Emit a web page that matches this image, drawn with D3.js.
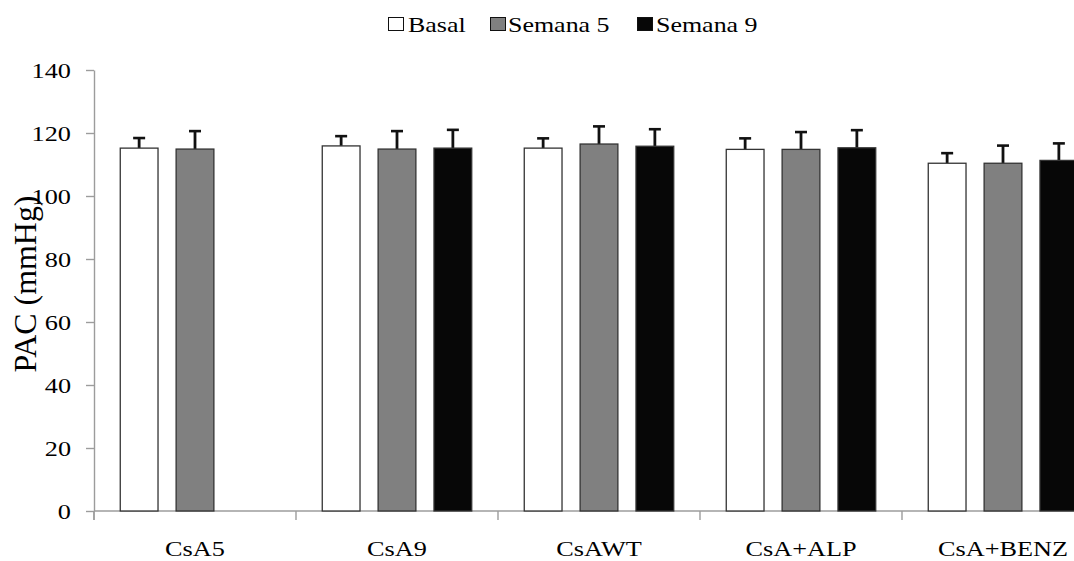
<!DOCTYPE html>
<html>
<head>
<meta charset="utf-8">
<script src="https://cdn.jsdelivr.net/npm/d3@7"></script>
<style>
body{margin:0;background:#fff;}
svg{display:block;}
</style>
</head>
<body>
<svg id="chart" width="1074" height="561"></svg>
<script>
const categories = ["CsA5", "CsA9", "CsAWT", "CsA+ALP", "CsA+BENZ"];
const seriesNames = ["Basal", "Semana 5", "Semana 9"];
const basal     = [115.2, 115.9, 115.2, 114.8, 110.4];
const semana5   = [114.9, 114.9, 116.5, 114.8, 110.4];
const semana9   = [null, 115.2, 115.8, 115.3, 111.3];
const basalErr  = [3.2, 3.1, 3.1, 3.5, 3.2];
const semana5Err= [5.7, 5.7, 5.6, 5.5, 5.6];
const semana9Err= [null, 5.8, 5.4, 5.6, 5.4];
const yTicks = [0, 20, 40, 60, 80, 100, 120, 140];
const colors = ["#ffffff", "#808080", "#070707"];

const values = [basal, semana5, semana9];
const errs = [basalErr, semana5Err, semana9Err];

const FONT = "'Liberation Serif', 'Times New Roman', serif";
const SX = 1.25; // horizontal stretch of the type

const svg = d3.select("#chart");
const mLeft = 94, mTop = 70, mBottom = 511, groupW = 202;

const x = d3.scaleBand().domain(categories).range([mLeft, mLeft + groupW * categories.length]).padding(0);
const xi = d3.scaleBand().domain(seriesNames).range([0, x.bandwidth()]).paddingInner(0.324).paddingOuter(0.47);
const y = d3.scaleLinear().domain([0, 140]).range([mBottom, mTop]);

const axisColor = "#9c9c9c";

// Y axis
const yAxis = svg.append("g").attr("transform", `translate(${mLeft},0)`)
  .call(d3.axisLeft(y).tickValues(yTicks).tickSize(8).tickSizeOuter(0));
yAxis.select(".domain").attr("stroke", axisColor).attr("stroke-width", 1.4);
yAxis.selectAll(".tick line").attr("stroke", axisColor).attr("stroke-width", 1.4);
yAxis.selectAll(".tick text")
  .attr("x", 0).attr("dy", "0.34em")
  .attr("transform", `translate(-23,0) scale(${SX},1)`)
  .style("font-family", FONT).style("font-size", "21px").style("fill", "#000");
// extend y-axis below x axis
svg.append("line").attr("x1", mLeft).attr("x2", mLeft).attr("y1", mBottom).attr("y2", mBottom + 9)
  .attr("stroke", axisColor).attr("stroke-width", 1.4);

// X axis line
svg.append("line").attr("x1", mLeft).attr("x2", 1074).attr("y1", mBottom).attr("y2", mBottom)
  .attr("stroke", axisColor).attr("stroke-width", 1.4);
svg.append("g").selectAll("line").data(categories).join("line")
  .attr("x1", d => x(d)).attr("x2", d => x(d))
  .attr("y1", mBottom).attr("y2", mBottom + 9)
  .attr("stroke", axisColor).attr("stroke-width", 1.4);
svg.append("g").selectAll("text").data(categories).join("text")
  .attr("transform", d => `translate(${x(d) + x.bandwidth() / 2},556) scale(${SX},1)`)
  .attr("text-anchor", "middle")
  .style("font-family", FONT).style("font-size", "21px").style("fill", "#000")
  .text(d => d);

// Bars
const barData = [];
categories.forEach((c, ci) => {
  seriesNames.forEach((s, si) => {
    const v = values[si][ci];
    if (v != null) barData.push({c, s, si, v, e: errs[si][ci]});
  });
});

const g = svg.append("g");
const cx = d => x(d.c) + xi(d.s) + xi.bandwidth() / 2;
g.selectAll("line.err").data(barData).join("line").attr("class", "err")
  .attr("x1", cx).attr("x2", cx)
  .attr("y1", d => y(d.v)).attr("y2", d => y(d.v + d.e))
  .attr("stroke", "#111").attr("stroke-width", 2.8);
g.selectAll("line.cap").data(barData).join("line").attr("class", "cap")
  .attr("x1", d => cx(d) - 6).attr("x2", d => cx(d) + 6)
  .attr("y1", d => y(d.v + d.e)).attr("y2", d => y(d.v + d.e))
  .attr("stroke", "#111").attr("stroke-width", 2.6);
g.selectAll("rect").data(barData).join("rect")
  .attr("x", d => x(d.c) + xi(d.s))
  .attr("y", d => y(d.v))
  .attr("width", xi.bandwidth())
  .attr("height", d => y(0) - y(d.v))
  .attr("fill", d => colors[d.si])
  .attr("stroke", "#333").attr("stroke-width", 1.3);

// Y label
svg.append("text")
  .attr("transform", "translate(36,284) scale(1.2,1) rotate(-90)")
  .attr("text-anchor", "middle")
  .attr("textLength", 177).attr("lengthAdjust", "spacingAndGlyphs")
  .style("font-family", FONT).style("font-size", "26px").style("fill", "#000")
  .text("PAC (mmHg)");

// Legend
const legendX = [388, 490, 637];
const legendTextX = [408, 508, 656];
const lg = svg.append("g");
seriesNames.forEach((s, i) => {
  lg.append("rect").attr("x", legendX[i] + 0.5).attr("y", 17.5).attr("width", 15).attr("height", 13)
    .attr("fill", colors[i]).attr("stroke", "#111").attr("stroke-width", 1);
  lg.append("text").attr("transform", `translate(${legendTextX[i]},32) scale(1.18,1)`)
    .style("font-family", FONT).style("font-size", "22px").style("fill", "#000").text(s);
});
</script>
</body>
</html>
